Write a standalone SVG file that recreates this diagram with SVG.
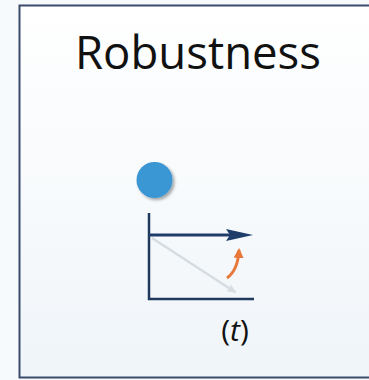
<svg xmlns="http://www.w3.org/2000/svg" width="369" height="380" viewBox="0 0 369 380">
<defs>
<linearGradient id="bg" x1="0" y1="0" x2="0" y2="1">
<stop offset="0" stop-color="#ffffff"/>
<stop offset="1" stop-color="#f0f5f9"/>
</linearGradient>
<filter id="sh" x="-50%" y="-50%" width="200%" height="200%">
<feDropShadow dx="2" dy="2" stdDeviation="1.5" flood-color="#000" flood-opacity="0.35"/>
</filter>
<marker id="ga" markerWidth="10" markerHeight="10" refX="8" refY="5" orient="auto" markerUnits="userSpaceOnUse" viewBox="0 0 10 10">
<path d="M0,1 L10,5 L0,9 L2,5 Z" fill="#d6dce2"/>
</marker>
<marker id="oa" markerWidth="10" markerHeight="10" refX="8" refY="5" orient="auto" markerUnits="userSpaceOnUse" viewBox="0 0 10 10">
<path d="M0,0 L10,5 L0,10 Z" fill="#e8783a"/>
</marker>
</defs>
<style>
.ax{stroke:#1f3a5c;stroke-width:2.5;fill:none}
.t{font-family:"Open Sans","Liberation Sans",sans-serif;fill:#111}
</style>
<rect width="369" height="380" fill="#f7fafc"/>
<rect x="19.5" y="5.5" width="420" height="372" fill="url(#bg)" stroke="#3a4b6c" stroke-width="2"/>
<g id="title">
<text class="t" x="198" y="69" font-size="45" font-weight="500" text-anchor="middle" textLength="246" lengthAdjust="spacingAndGlyphs">Robustness</text>
</g>
<g id="ball">
<circle cx="154.5" cy="180" r="18" fill="#3b97d3" filter="url(#sh)"/>
</g>
<g id="axes">
<path class="ax" d="M149,213 V299 H254"/>
</g>
<g id="connectors">
<line x1="152" y1="238" x2="235" y2="292" stroke="#d6dce2" stroke-width="2.5" marker-end="url(#ga)"/>
<line x1="149" y1="235" x2="230" y2="235" stroke="#1e3d6b" stroke-width="3"/>
<path d="M226,229 L253,235 L226,241 L230,235 Z" fill="#1e3d6b"/>
<path d="M227,278 Q238,270 239,250" stroke="#e8783a" stroke-width="3" fill="none" marker-end="url(#oa)"/>
</g>
<g id="tlabel">
<text class="t" x="235" y="341" font-size="30" text-anchor="middle">(<tspan font-style="italic">t</tspan>)</text>
</g>
</svg>
